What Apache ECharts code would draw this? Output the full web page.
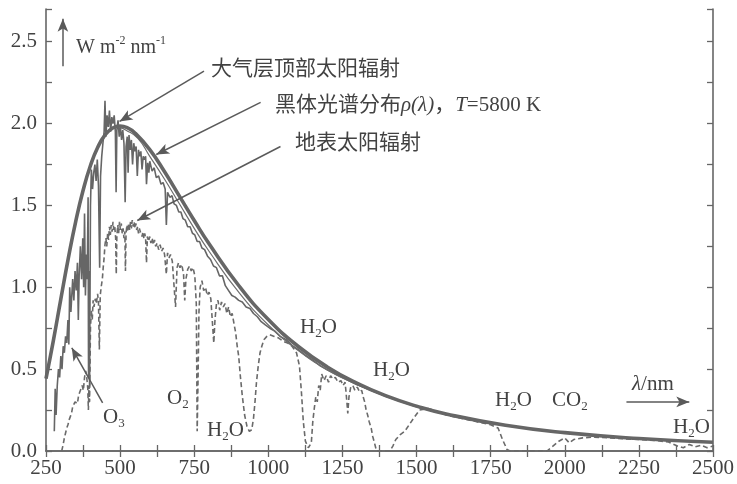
<!DOCTYPE html>
<html><head><meta charset="utf-8">
<script src="https://cdn.jsdelivr.net/npm/echarts@6/dist/echarts.min.js"></script>
<style>html,body{margin:0;padding:0;background:#fff}#c{width:737px;height:484px}</style>
</head><body><div id="c"></div>
<script>
// ---- data ----
const xTickLabels = ['250','500','750','1000','1250','1500','1750','2000','2250','2500'];
const yTickLabels = ['0.0','0.5','1.0','1.5','2.0','2.5'];

// blackbody 5800 K (thick curve)
const bbWave  = [250,275,300,325,350,375,400,425,450,475,500,525,550,600,650,700,750,800,900,1000,1100,1200,1300,1400,1500,1600,1800,2000,2250,2500];
const bbValue = [0.442,0.676,0.928,1.175,1.400,1.591,1.744,1.857,1.932,1.973,1.985,1.974,1.943,1.841,1.706,1.557,1.408,1.266,1.011,0.803,0.640,0.512,0.413,0.335,0.274,0.226,0.157,0.112,0.076,0.053];

// thin smooth line just under the blackbody curve
const thinWave  = [500,520,560,600,650,700,750,800,900,1000,1100,1200,1300,1400];
const thinValue = [1.975,1.96,1.91,1.80,1.66,1.51,1.36,1.22,0.97,0.77,0.615,0.495,0.405,0.332];

// top of atmosphere (solid noisy curve)
const etWave  = [278,281,284,288,292,296,300,304,308,312,316,320,324,327,330,334,337,340,344,348,352,356,359,362,366,370,374,377,380,383,386,389,392,393.5,395,397,400,403,407,411,415,419,423,427,431,434,438,442,446,449,452,456,460,464,468,472,476,480,484,486.5,489,493,497,501,505,509,513,517,520,524,527,530,534,538,542,546,550,554,558,562,566,570,574,578,582,586,589,593,597,600,608,615,622,630,638,645,652,656,660,668,675,682,690,698,705,712,720,728,736,744,752,760,768,776,785,795,805,815,825,835,845,855,866,877,888,900,912,925,938,950,963,976,990,1005,1020,1040,1060,1080,1100,1125,1150,1175,1200,1230,1260,1300,1350,1400,1500,1600,1700,1800,1900,2000,2100,2200,2300,2400,2500];
const etValue = [0.12,0.38,0.22,0.40,0.50,0.45,0.58,0.50,0.64,0.60,0.70,0.66,0.80,0.65,1.00,0.85,0.95,1.05,0.92,1.10,0.98,1.15,0.80,1.08,1.25,1.05,1.30,1.00,1.45,0.95,1.20,1.05,1.55,0.45,1.10,0.40,1.50,1.72,1.60,1.70,1.75,1.65,1.78,1.62,1.12,1.68,1.80,1.88,1.95,2.14,1.92,2.05,1.98,2.08,1.95,2.04,2.00,2.05,1.95,1.58,1.96,2.02,1.92,1.98,1.90,1.96,1.88,1.52,1.86,1.92,1.70,1.93,1.84,1.90,1.75,1.88,1.83,1.86,1.68,1.84,1.80,1.83,1.72,1.80,1.78,1.80,1.63,1.76,1.70,1.77,1.71,1.73,1.67,1.68,1.63,1.64,1.60,1.38,1.58,1.55,1.56,1.51,1.50,1.46,1.46,1.42,1.41,1.37,1.37,1.33,1.32,1.28,1.28,1.24,1.23,1.19,1.17,1.13,1.12,1.07,1.07,1.01,0.98,0.95,0.94,0.92,0.91,0.88,0.87,0.84,0.82,0.79,0.77,0.75,0.735,0.70,0.68,0.645,0.62,0.585,0.555,0.52,0.495,0.465,0.44,0.405,0.37,0.332,0.270,0.223,0.187,0.156,0.131,0.111,0.095,0.082,0.071,0.061,0.053];

// surface (dashed curve)
const sfWave  = [303,308,312,316,320,324,328,332,336,340,344,348,352,356,360,364,368,372,376,380,384,388,391,393,395,397,400,403,406,409,412,416,420,424,427,430,433,436,440,443,446,449,452,455,458,461,464,467,470,473,476,479,482,485,487,489,492,495,498,501,504,507,510,513,516,518,520,523,526,529,532,535,538,541,544,547,550,553,556,559,562,565,568,571,574,577,580,583,586,589,592,596,600,604,608,612,616,620,625,630,635,640,645,650,656,660,665,670,676,682,687,692,697,702,708,714,718,722,728,734,740,746,752,757,760,763,766,770,776,782,788,794,800,806,812,816,820,825,830,836,842,848,854,860,866,872,878,884,890,895,900,906,912,920,928,936,944,950,955,960,966,972,978,985,995,1005,1020,1035,1050,1065,1080,1095,1105,1112,1118,1125,1135,1145,1150,1155,1160,1165,1170,1175,1180,1188,1195,1203,1210,1218,1226,1235,1245,1252,1259,1265,1268,1272,1278,1285,1292,1300,1308,1315,1320,1325,1330,1335,1340,1347,1352,1358,1365,1410,1420,1430,1445,1460,1475,1490,1510,1540,1600,1650,1700,1750,1775,1790,1805,1815,1940,1960,1980,2000,2015,2030,2060,2100,2200,2300,2350,2380,2400,2420,2440,2460,2480,2500];
const sfValue = [0.00,0.04,0.08,0.11,0.14,0.16,0.19,0.21,0.23,0.27,0.26,0.30,0.31,0.29,0.34,0.36,0.35,0.40,0.37,0.45,0.49,0.44,0.38,0.25,0.40,0.30,0.75,0.86,0.80,0.92,0.88,0.93,0.90,0.96,0.91,0.62,0.95,1.00,1.05,1.12,1.18,1.26,1.30,1.25,1.33,1.29,1.37,1.32,1.38,1.34,1.40,1.35,1.37,1.30,1.08,1.31,1.38,1.33,1.40,1.35,1.39,1.33,1.36,1.30,1.34,1.10,1.33,1.38,1.34,1.39,1.35,1.40,1.36,1.41,1.37,1.40,1.36,1.39,1.35,1.37,1.33,1.36,1.34,1.35,1.31,1.34,1.30,1.33,1.30,1.15,1.31,1.28,1.31,1.27,1.30,1.26,1.29,1.25,1.27,1.23,1.26,1.22,1.24,1.20,1.08,1.21,1.18,1.20,1.16,1.17,0.88,1.12,1.15,1.12,1.14,1.08,0.92,1.05,1.11,1.13,1.10,1.12,1.07,0.90,0.12,0.45,0.85,1.00,1.04,0.98,1.00,0.95,0.97,0.93,0.94,0.66,0.80,0.90,0.92,0.86,0.91,0.88,0.90,0.84,0.88,0.82,0.84,0.78,0.72,0.64,0.58,0.45,0.34,0.22,0.15,0.12,0.13,0.20,0.30,0.42,0.52,0.60,0.64,0.68,0.70,0.71,0.70,0.69,0.67,0.66,0.64,0.60,0.52,0.35,0.18,0.06,0.02,0.05,0.18,0.26,0.33,0.30,0.40,0.37,0.47,0.43,0.46,0.42,0.46,0.44,0.45,0.42,0.43,0.40,0.42,0.30,0.23,0.33,0.39,0.40,0.37,0.39,0.36,0.37,0.33,0.30,0.25,0.22,0.18,0.14,0.09,0.05,0.00,0.00,0.03,0.07,0.10,0.12,0.16,0.20,0.25,0.26,0.22,0.20,0.18,0.16,0.14,0.07,0.01,0.00,0.00,0.03,0.06,0.08,0.05,0.07,0.08,0.085,0.075,0.065,0.055,0.03,0.02,0.04,0.025,0.035,0.02,0.03];

// annotation arrows in data coordinates [from, to]
const arrows = [
  [[783,2.32],[498,2.013]],
  [[974,2.13],[622,1.811]],
  [[1041,1.86],[558,1.408]],
  [[441,0.294],[337,0.630]],
  [[2208,0.30],[2420,0.30]],
  [[307,2.35],[307,2.64]]
];

const zip = (a,b) => a.map((v,i)=>[v,b[i]]);
const GRAY = '#666666', TXT = '#424242';
const SERIF = '"Liberation Serif", "Noto Sans CJK SC", serif';

const ctx = document.createElement('canvas').getContext('2d');
function measure(t, font){ ctx.font = font; return ctx.measureText(t).width; }
function richText(x, y, parts, size){
  const els = []; let cx = x;
  parts.forEach(([t, kind]) => {
    let fs = size, dy = 0, st = '';
    if (kind === 'sub') { fs = Math.round(size*0.62); dy = size*0.32; }
    if (kind === 'sup') { fs = Math.round(size*0.62); dy = -size*0.36; }
    if (kind === 'it') st = 'italic ';
    const font = st + fs + 'px ' + SERIF;
    els.push({type:'text', z:100, silent:true,
      style:{text:t, x:cx, y:y+dy, font:font, fill:TXT, align:'left', verticalAlign:'middle'}});
    cx += measure(t, font);
  });
  return els;
}
const h2o = (x,y) => richText(x,y,[['H'],['2','sub'],['O']],21);
const graphics = [].concat(
  richText(76,48,[['W m'],['-2','sup'],[' nm'],['-1','sup']],20),
  richText(211,69,[['大气层顶部太阳辐射']],21),
  richText(275,105,[['黑体光谱分布'],['ρ(λ)','it'],['，'],['T','it'],['=5800 K']],21),
  richText(295,143,[['地表太阳辐射']],21),
  richText(103,417,[['O'],['3','sub']],21),
  richText(167,398,[['O'],['2','sub']],21),
  h2o(207,430), h2o(300,327), h2o(373,370), h2o(495,400), h2o(673,427),
  richText(552,400,[['CO'],['2','sub']],21),
  richText(632,384,[['λ','it'],['/nm']],21)
);

const xFmt = v => (v % 250 === 0) ? xTickLabels[(v-250)/250] : '';
const yFmt = v => { const k = Math.round(v/0.5); return (Math.abs(v - k*0.5) < 1e-6 && k <= 5) ? yTickLabels[k] : ''; };
const axisLine = {lineStyle:{color:GRAY, width:1.6}};
const tick = {inside:true, length:6, lineStyle:{color:GRAY, width:1.3}};

const chart = echarts.init(document.getElementById('c'));
chart.setOption({
  animation:false,
  grid:{left:46, right:20, top:9, bottom:33},
  xAxis:[
    {type:'value', min:250, max:2500, interval:125, axisLine, axisTick:tick, splitLine:{show:false},
     axisLabel:{formatter:xFmt, color:TXT, fontFamily:SERIF, fontSize:21, margin:7}},
    {type:'value', position:'top', min:250, max:2500, interval:125, axisLine, axisTick:tick,
     splitLine:{show:false}, axisLabel:{show:false}}
  ],
  yAxis:[
    {type:'value', min:0, max:2.7, interval:0.25, axisLine:{show:true, ...axisLine}, axisTick:{show:true, ...tick},
     splitLine:{show:false}, axisLabel:{formatter:yFmt, color:TXT, fontFamily:SERIF, fontSize:21, margin:9}},
    {type:'value', position:'right', min:0, max:2.7, interval:0.25, axisLine:{show:true, ...axisLine},
     axisTick:{show:true, ...tick}, splitLine:{show:false}, axisLabel:{show:false}}
  ],
  series:[
    {type:'line', data:zip(sfWave, sfValue), showSymbol:false, z:2,
     lineStyle:{color:'#6a6a6a', width:1.6, type:[5,3]}},
    {type:'line', data:zip(etWave, etValue), showSymbol:false, z:3,
     lineStyle:{color:'#666666', width:1.6}},
    {type:'line', data:zip(thinWave, thinValue), showSymbol:false, smooth:true, z:3,
     lineStyle:{color:'#6e6e6e', width:1.2}},
    {type:'line', data:zip(bbWave, bbValue), showSymbol:false, smooth:true, z:4,
     lineStyle:{color:GRAY, width:3.6},
     markLine:{silent:true, symbol:['none','arrow'], symbolSize:[8,13], label:{show:false},
       lineStyle:{color:'#5a5a5a', width:1.5, type:'solid'},
       data: arrows.map(a => [{coord:a[0]},{coord:a[1]}])}}
  ],
  graphic: graphics
});
</script></body></html>
